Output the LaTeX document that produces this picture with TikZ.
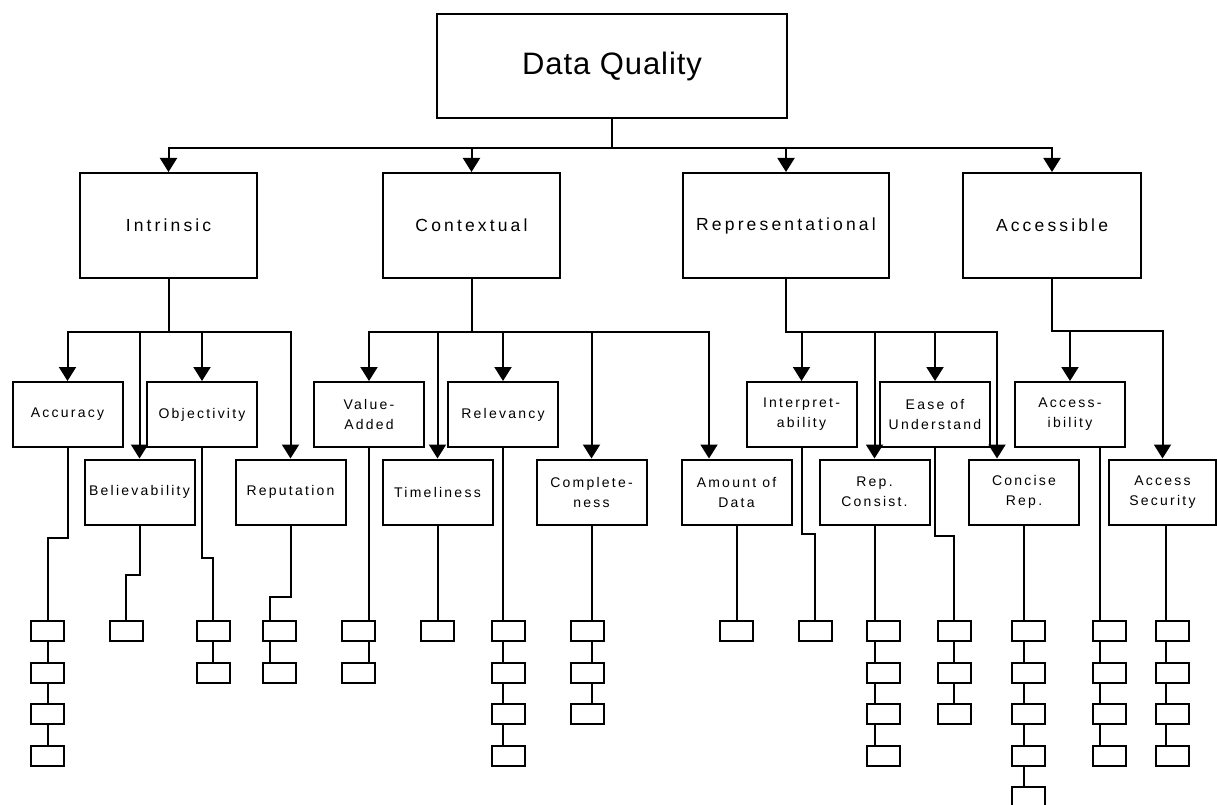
\documentclass[tikz,border=0pt]{standalone}
\usepackage{fontspec}
\setmainfont{Liberation Sans}
\newfontfamily\topfont{Liberation Sans}[LetterSpace=3]
\newfontfamily\catfont{Liberation Sans}[LetterSpace=18]
\newfontfamily\subfont{Liberation Sans}[LetterSpace=16]
\usetikzlibrary{arrows.meta}

% a column of small boxes: name prefix, centre x, count, x offset of the link line
\newcommand\smallchain[4]{%
  \foreach \k in {1,...,#3}{\node[sbox] (#1-\k) at (#2,{631+41.6*(\k-1)}) {};}%
  \ifnum#3>1
    \foreach \k [remember=\k as \prev (initially 1)] in {2,...,#3}{%
      \draw ([xshift=#4pt]#1-\prev.south) -- ([xshift=#4pt]#1-\k.north);}%
  \fi}

\begin{document}
\begin{tikzpicture}[x=1pt,y=-1pt,line width=2pt,
  box/.style={draw,inner sep=0pt,align=center},
  topbox/.style={box,minimum width=350pt,minimum height=104pt,
    font=\topfont\fontsize{31}{36}\selectfont},
  catbox/.style={box,minimum height=105pt,
    font=\catfont\fontsize{17.5}{21}\selectfont},
  subbox/.style={box,minimum width=110pt,minimum height=65pt,
    font=\subfont\fontsize{14}{20}\selectfont},
  sbox/.style={draw,inner sep=0pt,minimum width=33pt,minimum height=20pt},
  arr/.style={-{Triangle[width=17pt,length=14pt]}}]
\useasboundingbox (0,0) rectangle (1217,805);
\clip (0,0) rectangle (1217,805);

% root
\node[topbox] (dq) at (612,66) {Data Quality};

% categories
\node[catbox,minimum width=177pt] (intr) at (168.5,225.5) {Intrinsic};
\node[catbox,minimum width=177pt] (ctx)  at (471.5,225.5) {Contextual};
\node[catbox,minimum width=206pt] (repr) at (786,225.5)   {Representational};
\node[catbox,minimum width=178pt] (accl) at (1052,225.5)  {Accessible};

% dimensions, upper row
\node[subbox] (acc)    at (67.5,414.5)  {Accuracy};
\node[subbox] (obj)    at (202,414.5)   {Objectivity};
\node[subbox] (va)     at (369,414.5)   {Value-\\Added};
\node[subbox] (rel)    at (503,414.5)   {Relevancy};
\node[subbox] (interp) at (801.5,414.5) {Interpret-\\ability};
\node[subbox] (ease)   at (935,414.5)   {Ease of\\Understand};
\node[subbox] (accb)   at (1070,414.5)  {Access-\\ibility};

% dimensions, lower row
\node[subbox] (bel)  at (139.5,492)  {Believability};
\node[subbox] (rep)  at (290.5,492)  {Reputation};
\node[subbox] (tim)  at (437.5,492)  {Timeliness};
\node[subbox] (comp) at (591.5,492)  {Complete-\\ness};
\node[subbox] (aod)  at (736.5,492)  {Amount of\\Data};
\node[subbox] (repc) at (874.5,492)  {Rep.\\Consist.};
\node[subbox] (conc) at (1024,492)   {Concise\\Rep.};
\node[subbox,minimum width=107pt] (accs) at (1162.5,492) {Access\\Security};

% root to categories
\foreach \t in {intr,ctx,repr,accl}
  \draw[arr] (dq.south) -- ++(0,29) -| (\t.north);

% categories to dimensions
\foreach \t in {acc,bel,obj,rep}
  \draw[arr] (intr.south) -- ++(0,53) -| (\t.north);
\foreach \t in {va,tim,rel,comp}
  \draw[arr] (ctx.south) -- ++(0,53) -| (\t.north);
\draw[arr] (ctx.south) -- ++(0,53) -| ([xshift=-27.5pt]aod.north);
\foreach \t in {interp,repc,ease}
  \draw[arr] (repr.south) -- ++(0,53) -| (\t.north);
\draw[arr] (repr.south) -- ++(0,53) -| ([xshift=-27pt]conc.north);
\foreach \t in {accb,accs}
  \draw[arr] (accl.south) -- ++(0,52) -| (\t.north);

% small item boxes
\smallchain{a}{47.5}{4}{0}
\smallchain{b}{126}{1}{0}
\smallchain{o}{213}{2}{0}
\smallchain{r}{279}{2}{-9.4}
\smallchain{v}{358.7}{2}{10.3}
\smallchain{t}{437.5}{1}{0}
\smallchain{rl}{508.7}{4}{-5.7}
\smallchain{cp}{587}{3}{4.5}
\smallchain{ad}{736.5}{1}{0}
\smallchain{ip}{815.4}{1}{0}
\smallchain{rc}{883.5}{4}{-9}
\smallchain{e}{954}{3}{0}
\smallchain{cn}{1028}{5}{-4}
\smallchain{ab}{1109}{4}{-9}
\smallchain{as}{1172}{4}{-6}

% dimensions to their items
\draw (acc.south) -- ++(0,90) -| (a-1.north);
\draw (bel.south) -- ++(0,49) -| (b-1.north);
\draw (obj.south) -- ++(0,110) -| (o-1.north);
\draw (rep.south) -- ++(0,71) -| ([xshift=-9.4pt]r-1.north);
\draw (va.south) -- ([xshift=10.3pt]v-1.north);
\draw (tim.south) -- (t-1.north);
\draw (rel.south) -- ([xshift=-5.7pt]rl-1.north);
\draw (comp.south) -- ([xshift=4.5pt]cp-1.north);
\draw (aod.south) -- (ad-1.north);
\draw (interp.south) -- ++(0,86) -| (ip-1.north);
\draw (repc.south) -- ([xshift=-9pt]rc-1.north);
\draw (ease.south) -- ++(0,88) -| (e-1.north);
\draw (conc.south) -- ([xshift=-4pt]cn-1.north);
\draw ([xshift=30pt]accb.south) -- ([xshift=-9pt]ab-1.north);
\draw ([xshift=3.5pt]accs.south) -- ([xshift=-6pt]as-1.north);
\end{tikzpicture}
\end{document}
